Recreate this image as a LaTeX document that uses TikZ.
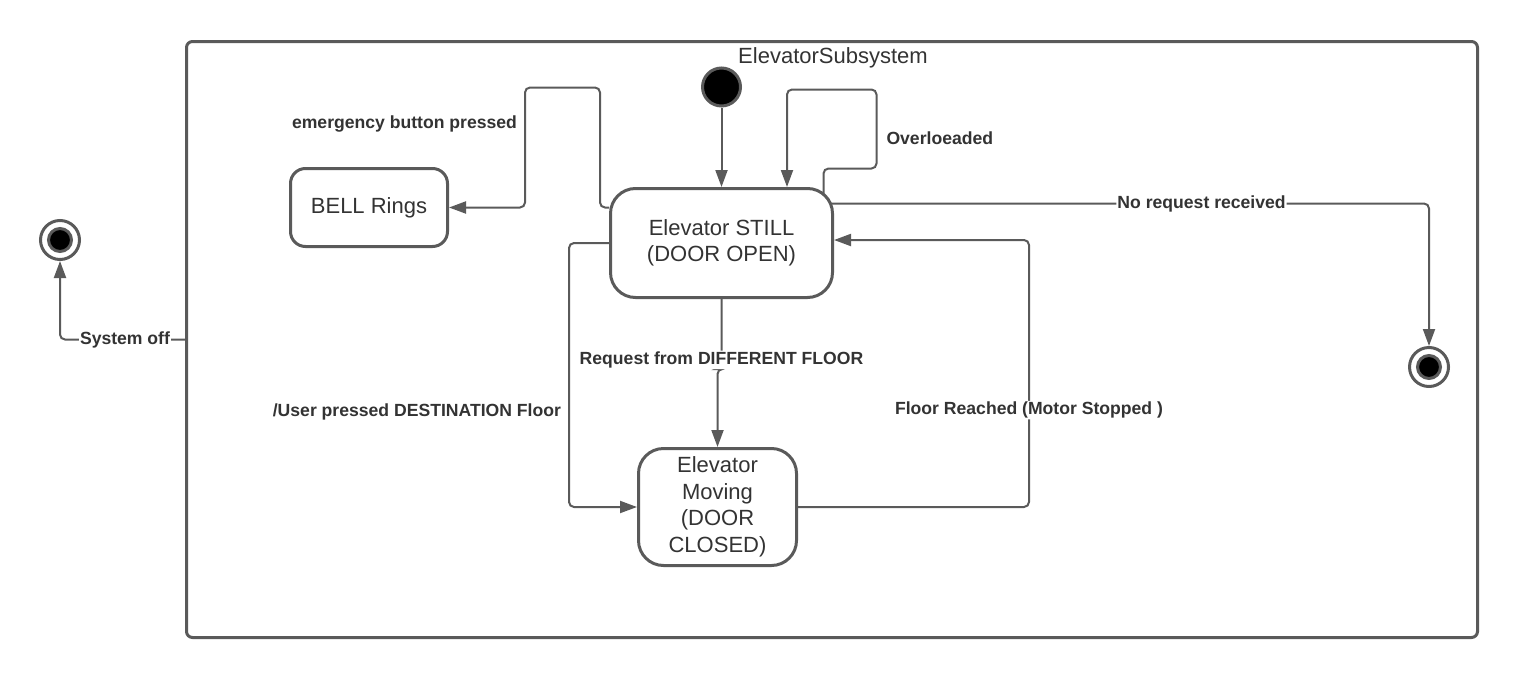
\documentclass[tikz,border=0pt]{standalone}
\usepackage{fontspec}
\setmainfont{Liberation Sans}
\usetikzlibrary{arrows.meta,calc,positioning}
\definecolor{LGray}{HTML}{5A5A5A}
\definecolor{LInk}{HTML}{333333}
\tikzset{
    subsys/.style = {draw=LGray, line width=3pt, rounded corners=6pt,
        minimum width=1291pt, minimum height=596pt, inner sep=0pt},
    statebox/.style = {draw=LGray, line width=3pt, rounded corners=25pt,
        fill=white, text=LInk, align=center,
        font=\fontsize{22}{26.5}\selectfont},
    initdot/.style = {circle, draw=LGray, fill=black, line width=3pt,
        minimum size=38pt, inner sep=0pt},
    enddot/.style = {circle, draw=LGray, line width=3pt, fill=white,
        minimum size=39pt, inner sep=0pt,
        path picture={\draw[LGray, line width=3pt, fill=black]
            (path picture bounding box.center) circle[radius=11.5pt];}},
    conn/.style = {draw=LGray, line width=2pt, rounded corners=5pt,
        -{Triangle[length=17pt,width=12pt]}},
    lbl/.style = {fill=white, text=LInk, inner sep=1pt,
        font=\fontsize{17.6}{21}\selectfont\bfseries}
}
\begin{document}
\begin{tikzpicture}[x=1pt,y=-1pt]
\useasboundingbox (0,0) rectangle (1520,680);
% subsystem frame
\node[subsys] (sub) at (832,339.5) {};
\node[text=LInk, font=\fontsize{22}{26.5}\selectfont] (title) at (833,58) {ElevatorSubsystem};
% states
\node[initdot] (start) at (721.5,87) {};
\node[statebox, minimum width=222pt, minimum height=109pt] (still) at (721.5,243) {Elevator STILL\\(DOOR OPEN)};
\node[statebox, rounded corners=15pt, minimum width=157pt, minimum height=78pt] (bell) at (369,207.5) {BELL Rings};
\node[statebox, minimum width=158pt, minimum height=117pt] (moving) at (717.5,507) {Elevator\\Moving\\(DOOR\\CLOSED)};
\node[enddot] (offend) at (60,240) {};
\node[enddot] (idleend) at (1429,367) {};
% transitions
\draw[conn] (start.south) -- (start.south |- still.north);
\draw[conn] ($(still.north east)+(-10.5,7.5)$) -- ++(0,-26) -- ++(53,0)
    -- node[lbl, right=8pt, pos=0.38] {Overloeaded} ++(0,-79)
    -| ($(still.north)+(65.5,0)$);
\draw[conn] (still.west |- bell.east) -- ++(-9,0) -- ++(0,-120) -- ++(-75,0)
    -- node[lbl, left=6pt, pos=0.3] {emergency button pressed} ++(0,120)
    -- (bell.east);
\draw[conn] ($(still.north east)+(-3.5,16.5)$) -| node[lbl, pos=0.31] {No request received} (idleend.north);
\draw[conn] (still.south) -- node[lbl, pos=0.87] {Request from DIFFERENT FLOOR} ++(0,70)
    -- ++(-4,0) -- (moving.north);
\draw[conn] (still.west) -- ++(-40,0)
    -- node[lbl, left=6pt, pos=0.64] {/User pressed DESTINATION Floor} ++(0,264)
    -- (moving.west);
\draw[conn] (moving.east) -- ++(231,0)
    -- node[lbl, pos=0.363] {Floor Reached (Motor Stopped )} ++(0,-267)
    -- ($(still.east)+(0,-3)$);
\draw[conn] (sub.west) -| node[lbl, pos=0.24] {System off} (offend.south);
\end{tikzpicture}
\end{document}
